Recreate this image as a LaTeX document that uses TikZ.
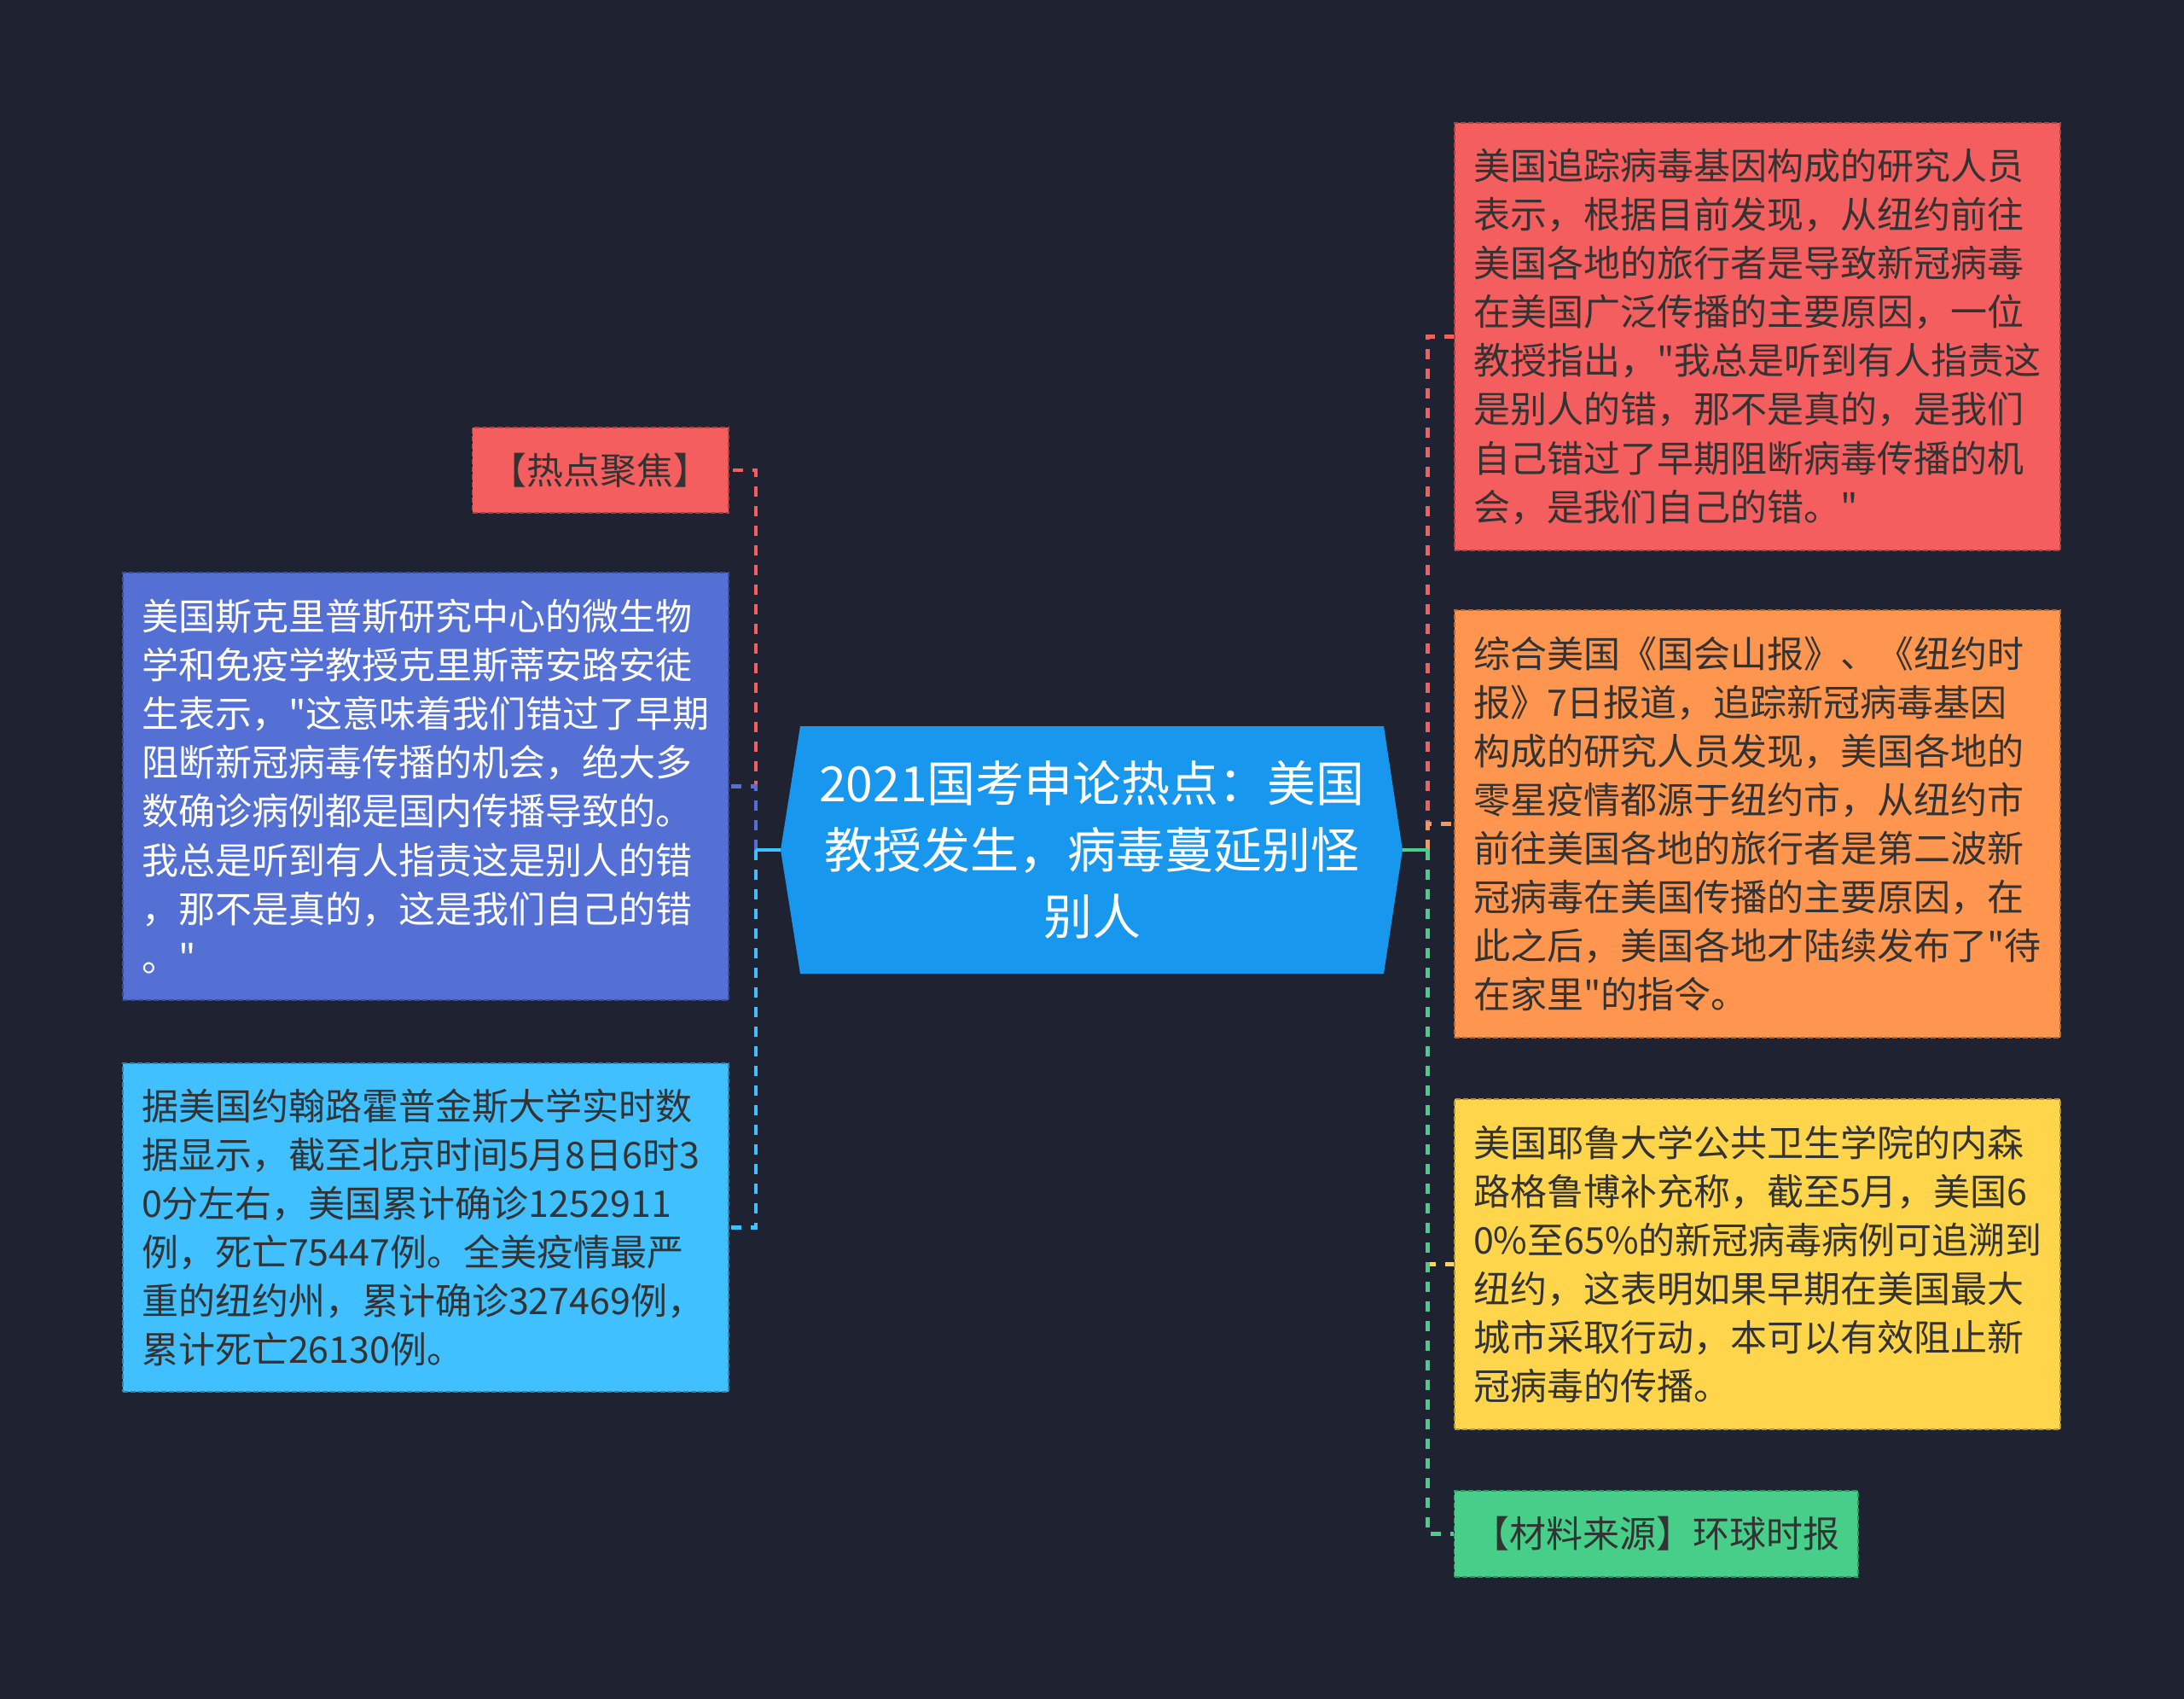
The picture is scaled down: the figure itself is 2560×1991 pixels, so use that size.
\documentclass[tikz,border=0pt]{standalone}
\usepackage{fontspec}
\newfontfamily\cjk{Noto Sans CJK SC}
\definecolor{bg}{HTML}{1F2230}
\definecolor{cred}{HTML}{F45E5E}
\definecolor{cblue}{HTML}{5570D5}
\definecolor{ccyan}{HTML}{40C0FF}
\definecolor{corange}{HTML}{FF9650}
\definecolor{cyellow}{HTML}{FFD64B}
\definecolor{cgreen}{HTML}{47CF8A}
\definecolor{ccenter}{HTML}{1897EE}
\definecolor{txt}{HTML}{333333}
\tikzset{
  conn/.style={line width=2.2pt, dash pattern=on 6pt off 5.5pt},
  stub/.style={line width=2.2pt},
  boxbase/.style={font=\cjk\fontsize{21.5}{28.55}\selectfont, text=txt,
    dash pattern=on 3pt off 1.5pt, line width=0.8pt},
  textbox/.style={boxbase, inner xsep=11pt, inner ysep=0pt, text width=333pt,
    align=left, minimum width=355pt},
  labelbox/.style={boxbase, inner sep=0pt, align=center},
}
\begin{document}
\begin{tikzpicture}[x=0.5pt,y=-0.5pt]
\useasboundingbox (0,0) rectangle (2560,1991);
\fill[bg] (0,0) rectangle (2560,1991);

% center node
\coordinate (cl) at (915,996);
\coordinate (cr) at (1644,996);
\fill[ccenter] (938,851) -- (1622,851) -- (cr) -- (1622,1141) -- (938,1141) -- (cl) -- cycle;
\node[font=\cjk\fontsize{28.5}{39}\selectfont, text=white, align=center, inner sep=0pt] (c) at (1280,996)
  {2021国考申论热点：美国\\教授发生，病毒蔓延别怪\\别人};

% left nodes
\node[labelbox, fill=cred, draw=cred!70!black, minimum width=150.25pt, minimum height=50pt] (hot) at (703.75,551) {【热点聚焦】};
\node[textbox, fill=cblue, draw=cblue!70!black, text=white, minimum height=250.5pt] (blue) at (499,921.5)
  {美国斯克里普斯研究中心的微生物\\学和免疫学教授克里斯蒂安路安徒\\生表示，"这意味着我们错过了早期\\阻断新冠病毒传播的机会，绝大多\\数确诊病例都是国内传播导致的。\\我总是听到有人指责这是别人的错\\，那不是真的，这是我们自己的错\\。"};
\node[textbox, fill=ccyan, draw=ccyan!70!black, minimum height=192.5pt] (cyan) at (499,1438.5)
  {据美国约翰路霍普金斯大学实时数\\据显示，截至北京时间5月8日6时3\\0分左右，美国累计确诊1252911\\例，死亡75447例。全美疫情最严\\重的纽约州，累计确诊327469例，\\累计死亡26130例。};

% right nodes
\node[textbox, fill=cred, draw=cred!70!black, minimum height=250.5pt] (redr) at (2060,394.4)
  {美国追踪病毒基因构成的研究人员\\表示，根据目前发现，从纽约前往\\美国各地的旅行者是导致新冠病毒\\在美国广泛传播的主要原因，一位\\教授指出，"我总是听到有人指责这\\是别人的错，那不是真的，是我们\\自己错过了早期阻断病毒传播的机\\会，是我们自己的错。"};
\node[textbox, fill=corange, draw=corange!70!black, minimum height=250.5pt] (orange) at (2060,965.5)
  {综合美国《国会山报》、《纽约时\\报》7日报道，追踪新冠病毒基因\\构成的研究人员发现，美国各地的\\零星疫情都源于纽约市，从纽约市\\前往美国各地的旅行者是第二波新\\冠病毒在美国传播的主要原因，在\\此之后，美国各地才陆续发布了"待\\在家里"的指令。};
\node[textbox, fill=cyellow, draw=cyellow!70!black, minimum height=193.5pt] (yellow) at (2060,1481.5)
  {美国耶鲁大学公共卫生学院的内森\\路格鲁博补充称，截至5月，美国6\\0\%至65\%的新冠病毒病例可追溯到\\纽约，这表明如果早期在美国最大\\城市采取行动，本可以有效阻止新\\冠病毒的传播。};
\node[labelbox, fill=cgreen, draw=cgreen!70!black, minimum width=236.75pt, minimum height=50.5pt] (green) at (1941.3,1797.5) {【材料来源】环球时报};

% spines
\coordinate (ls) at (886,996);
\coordinate (rs) at (1673.5,996);

% left connectors
\draw[conn, cred] (ls) |- (hot.east);
\draw[conn, cblue] (ls) |- (blue.east);
\draw[conn, ccyan] (ls) |- (cyan.east);
\draw[stub, ccyan] (cl) -- (ls);

% right connectors
\draw[conn, cred] (rs) |- (redr.west);
\draw[conn, corange] (rs) |- (orange.west);
\draw[conn, cyellow] (rs) |- (yellow.west);
\draw[conn, cgreen] (rs) |- (green.west);
\draw[stub, cgreen] (cr) -- (rs);
\end{tikzpicture}
\end{document}
